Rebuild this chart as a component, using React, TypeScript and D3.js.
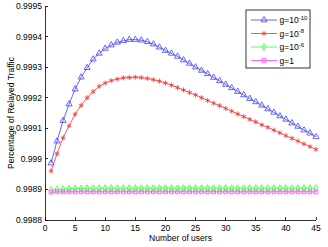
import React from 'react';
import * as d3 from 'd3';

// Number of users 1..45
const users = d3.range(1, 46);

// g = 1e-10
const g10 = [
  0.998986, 0.999058, 0.999125, 0.999179, 0.999228, 0.999267, 0.999298, 0.999326, 0.999345, 0.999361,
  0.999372, 0.999381, 0.999386, 0.99939, 0.99939, 0.999388, 0.999383, 0.999375, 0.999365, 0.999354,
  0.999345, 0.999335, 0.999323, 0.999312, 0.9993, 0.999289, 0.999278, 0.999266, 0.999255, 0.999243,
  0.999232, 0.99922, 0.999209, 0.999197, 0.999186, 0.999175, 0.999163, 0.999152, 0.99914, 0.999129,
  0.999117, 0.999106, 0.999094, 0.999084, 0.999072
];
// g = 1e-8
const g8 = [
  0.99896, 0.999017, 0.999069, 0.999108, 0.999146, 0.999175, 0.9992, 0.99922, 0.999237, 0.999248,
  0.999256, 0.999261, 0.999265, 0.999266, 0.999267, 0.999266, 0.999263, 0.999259, 0.999254, 0.999248,
  0.999241, 0.999233, 0.999225, 0.999217, 0.999209, 0.9992, 0.999191, 0.999182, 0.999174, 0.999165,
  0.999156, 0.999147, 0.999138, 0.999129, 0.999121, 0.999111, 0.999103, 0.999094, 0.999085, 0.999076,
  0.999067, 0.999058, 0.999049, 0.99904, 0.999031
];
// g = 1e-6
const g6 = [
  0.998898, 0.9989, 0.998901, 0.998902, 0.998903, 0.998903, 0.998904, 0.998904, 0.998904, 0.998904,
  0.998904, 0.998904, 0.998904, 0.998904, 0.998904, 0.998904, 0.998904, 0.998904, 0.998904, 0.998904,
  0.998904, 0.998904, 0.998904, 0.998904, 0.998904, 0.998904, 0.998904, 0.998904, 0.998904, 0.998904,
  0.998904, 0.998904, 0.998904, 0.998904, 0.998904, 0.998904, 0.998904, 0.998904, 0.998904, 0.998904,
  0.998904, 0.998904, 0.998904, 0.998904, 0.998904
];
// g = 1
const g1 = [
  0.998891, 0.998892, 0.998892, 0.998892, 0.998892, 0.998892, 0.998892, 0.998892, 0.998892, 0.998892,
  0.998892, 0.998892, 0.998892, 0.998892, 0.998892, 0.998892, 0.998892, 0.998892, 0.998892, 0.998892,
  0.998892, 0.998892, 0.998892, 0.998892, 0.998892, 0.998892, 0.998892, 0.998892, 0.998892, 0.998892,
  0.998892, 0.998892, 0.998892, 0.998892, 0.998892, 0.998892, 0.998892, 0.998892, 0.998892, 0.998892,
  0.998892, 0.998892, 0.998892, 0.998892, 0.998892
];

const xTicks = [0, 5, 10, 15, 20, 25, 30, 35, 40, 45];
const yTicks = [0.9988, 0.9989, 0.999, 0.9991, 0.9992, 0.9993, 0.9994, 0.9995];
const yTickLabels = ['0.9988', '0.9989', '0.999', '0.9991', '0.9992', '0.9993', '0.9994', '0.9995'];

const series = [
  { name: '-10', values: g10, color: '#4040ff', symbol: d3.symbolTriangle, size: 16 },
  { name: '-8', values: g8, color: '#ff3030', symbol: d3.symbolAsterisk, size: 18 },
  { name: '-6', values: g6, color: '#30ff30', symbol: d3.symbolDiamond, size: 14 },
  { name: '', values: g1, color: '#ff40ff', symbol: d3.symbolSquare, size: 14 },
];

const W = 328;
const H = 247;
const font = 'Liberation Sans, Arial, sans-serif';

export default function App() {
  const x = d3.scaleLinear().domain([0, 45]).range([45, 316]);
  const y = d3.scaleLinear().domain([0.9988, 0.9995]).range([220, 6]);

  const line = d3.line<number>()
    .x((_, i) => x(users[i]))
    .y(d => y(d));

  return (
    <svg width={W} height={H} style={{ position: 'absolute', left: 0, top: 0, background: '#fff' }}>
      <rect x={0} y={0} width={W} height={H} fill="#fff" />

      {/* series */}
      {series.map(s => {
        const sym = d3.symbol(s.symbol, s.size)();
        return (
          <g key={s.name + s.color}>
            <path d={line(s.values) || ''} fill="none" stroke={s.color} strokeWidth={0.8} />
            {s.values.map((v, i) => (
              <path key={i} d={sym || ''} transform={`translate(${x(users[i])},${y(v)})`}
                fill="none" stroke={s.color} strokeWidth={0.8} />
            ))}
          </g>
        );
      })}

      {/* axes */}
      <g stroke="#000" strokeWidth={0.8} fill="none" shapeRendering="crispEdges">
        <line x1={x(0)} x2={x(45)} y1={y(0.9988)} y2={y(0.9988)} />
        <line x1={x(0)} x2={x(0)} y1={y(0.9988)} y2={y(0.9995)} />
        {xTicks.map(t => (
          <line key={'xt' + t} x1={x(t)} x2={x(t)} y1={y(0.9988)} y2={y(0.9988) - 3} />
        ))}
        {yTicks.map(t => (
          <line key={'yt' + t} x1={x(0)} x2={x(0) + 3} y1={y(t)} y2={y(t)} />
        ))}
      </g>
      <g fontFamily={font} fontSize={8.5} fill="#000">
        {xTicks.map(t => (
          <text key={'xl' + t} x={x(t)} y={231} textAnchor="middle">{t}</text>
        ))}
        {yTicks.map((t, i) => (
          <text key={'yl' + t} x={x(0) - 3} y={y(t) + 3} textAnchor="end">{yTickLabels[i]}</text>
        ))}
        <text x={(x(0) + x(45)) / 2} y={241} textAnchor="middle">Number of users</text>
        <text transform={`translate(14,${(y(0.9988) + y(0.9995)) / 2}) rotate(-90)`} textAnchor="middle">
          Percentage of Relayed Traffic
        </text>
      </g>

      {/* legend */}
      <g>
        <rect x={246} y={10} width={64} height={58} fill="#fff" stroke="#000" strokeWidth={0.8} />
        {series.map((s, i) => {
          const ly = 20 + i * 13.5;
          const sym = d3.symbol(s.symbol, s.size)();
          return (
            <g key={'lg' + i}>
              <line x1={251} x2={277} y1={ly} y2={ly} stroke={s.color} strokeWidth={0.8} />
              <path d={sym || ''} transform={`translate(264,${ly})`} fill="none" stroke={s.color} strokeWidth={0.8} />
              <text x={279.5} y={ly + 3} fontFamily={font} fontSize={8.5} fill="#000">
                {s.name ? 'g=10' : 'g=1'}
                {s.name ? <tspan dy={-3.5} fontSize={6}>{s.name}</tspan> : null}
              </text>
            </g>
          );
        })}
      </g>
    </svg>
  );
}
